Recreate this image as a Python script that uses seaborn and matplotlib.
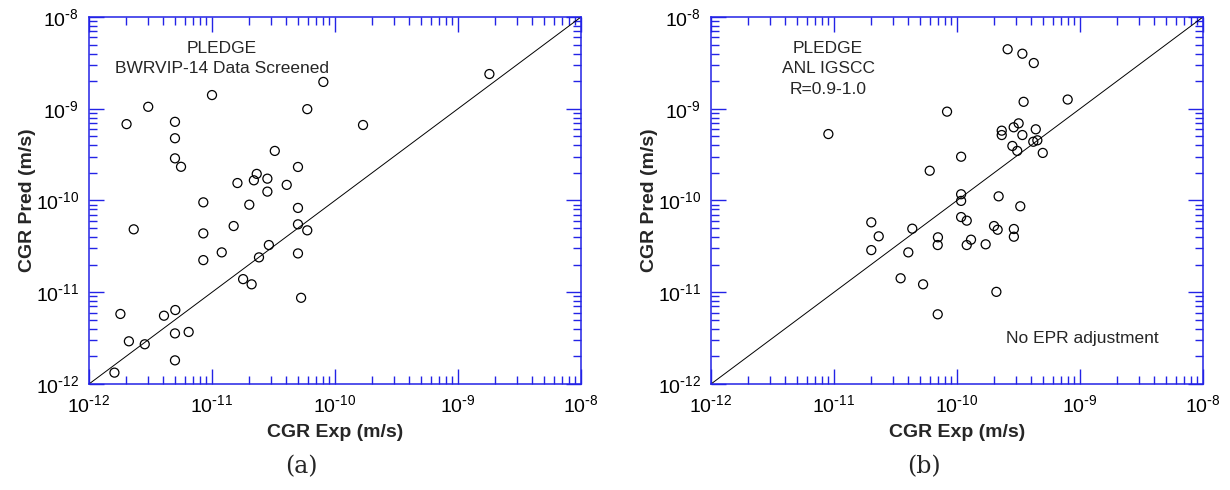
import numpy as np
import pandas as pd
import matplotlib
matplotlib.use("Agg")
import matplotlib.pyplot as plt
import matplotlib.ticker as mticker
import seaborn as sns

# ---------------- data ----------------
a_exp = [1.0e-11, 3.03e-12, 5.95e-11, 2.02e-12, 5.0e-12, 1.69e-10, 5.0e-12, 3.24e-11,
         5.0e-12, 5.6e-12, 5.0e-11, 2.31e-11, 2.19e-11, 2.82e-11, 1.61e-11, 4.05e-11,
         2.82e-11, 8.5e-12, 2.01e-11, 5.0e-11, 2.31e-12, 1.5e-11, 8.5e-12, 5.0e-11,
         5.95e-11, 1.2e-11, 8.5e-12, 2.9e-11, 2.41e-11, 5.0e-11, 1.79e-11, 2.1e-11,
         5.3e-11, 1.8e-12, 4.07e-12, 5.03e-12, 5.0e-12, 6.46e-12, 2.11e-12, 2.84e-12,
         5.0e-12, 1.61e-12, 1.8e-9, 8.04e-11]
a_pred = [1.41e-9, 1.05e-9, 0.99e-9, 6.8e-10, 7.2e-10, 6.65e-10, 4.77e-10, 3.47e-10,
          2.88e-10, 2.33e-10, 2.32e-10, 1.95e-10, 1.66e-10, 1.73e-10, 1.55e-10, 1.48e-10,
          1.25e-10, 9.55e-11, 9.0e-11, 8.3e-11, 4.85e-11, 5.27e-11, 4.38e-11, 5.5e-11,
          4.73e-11, 2.72e-11, 2.24e-11, 3.27e-11, 2.4e-11, 2.65e-11, 1.39e-11, 1.22e-11,
          8.7e-12, 5.8e-12, 5.55e-12, 6.4e-12, 3.56e-12, 3.69e-12, 2.92e-12, 2.71e-12,
          1.81e-12, 1.33e-12, 2.39e-9, 1.96e-9]

b_exp = [2.58e-10, 3.4e-10, 4.21e-10, 3.48e-10, 8.3e-11, 9.0e-12, 2.31e-10, 2.31e-10,
         7.94e-10, 2.89e-10, 3.17e-10, 4.37e-10, 3.4e-10, 2.82e-10, 3.09e-10, 4.17e-10,
         4.5e-10, 4.98e-10, 1.08e-10, 6.0e-11, 1.08e-10, 1.08e-10, 2.18e-10, 3.27e-10,
         1.08e-10, 1.2e-10, 4.33e-11, 2.0e-10, 2.14e-10, 2.9e-10, 2.9e-10, 7.0e-11,
         6.97e-11, 1.3e-10, 1.2e-10, 1.71e-10, 2.01e-11, 2.31e-11, 2.01e-11, 4.02e-11,
         3.48e-11, 5.3e-11, 2.09e-10, 6.97e-11]
b_pred = [4.45e-9, 3.98e-9, 3.15e-9, 1.19e-9, 9.3e-10, 5.3e-10, 5.77e-10, 5.17e-10,
          1.26e-9, 6.28e-10, 6.93e-10, 5.97e-10, 5.17e-10, 3.93e-10, 3.47e-10, 4.37e-10,
          4.53e-10, 3.3e-10, 3.0e-10, 2.11e-10, 1.17e-10, 9.9e-11, 1.11e-10, 8.65e-11,
          6.6e-11, 6.03e-11, 4.93e-11, 5.27e-11, 4.8e-11, 4.89e-11, 4.03e-11, 3.97e-11,
          3.27e-11, 3.74e-11, 3.27e-11, 3.33e-11, 5.78e-11, 4.07e-11, 2.88e-11, 2.72e-11,
          1.42e-11, 1.22e-11, 1.01e-11, 5.75e-12]

diag = [1e-12, 1e-8]
axis_range = [1e-12, 1e-8]
tick_vals = [1e-12, 1e-11, 1e-10, 1e-9, 1e-8]
tick_labels = [r"$\mathregular{10^{\text{-}12}}$", r"$\mathregular{10^{\text{-}11}}$",
               r"$\mathregular{10^{\text{-}10}}$", r"$\mathregular{10^{\text{-}9}}$",
               r"$\mathregular{10^{\text{-}8}}$"]

xlabel = "CGR Exp (m/s)"
ylabel = "CGR Pred (m/s)"
a_text = "PLEDGE\nBWRVIP-14 Data Screened"
b_text = "PLEDGE\nANL IGSCC\nR=0.9-1.0"
b_note = "No EPR adjustment"
captions = ["(a)", "(b)"]

# ---------------- style ----------------
sns.set_theme(style="white")
plt.rcParams["font.family"] = ["Liberation Sans", "DejaVu Sans"]
plt.rcParams["mathtext.default"] = "regular"

BLUE = "#2323e6"

fig = plt.figure(figsize=(12.3, 4.9), dpi=100)
ax_a = fig.add_axes([89 / 1230, 106 / 490, 492 / 1230, 367 / 490])
ax_b = fig.add_axes([711 / 1230, 106 / 490, 492 / 1230, 367 / 490])


def style_axes(ax, xs, ys):
    sns.lineplot(x=diag, y=diag, ax=ax, color="black", linewidth=0.7)
    sns.scatterplot(x=xs, y=ys, ax=ax, marker="o", s=42, facecolor="none",
                    edgecolor="black", linewidth=0.9, zorder=3)
    ax.set_xscale("log")
    ax.set_yscale("log")
    ax.set_xlim(axis_range)
    ax.set_ylim(axis_range)
    ax.set_xticks(tick_vals)
    ax.set_yticks(tick_vals)
    ax.set_xticklabels(tick_labels)
    ax.set_yticklabels(tick_labels)
    ax.xaxis.set_minor_locator(mticker.LogLocator(base=10, subs=np.arange(2, 10), numticks=20))
    ax.yaxis.set_minor_locator(mticker.LogLocator(base=10, subs=np.arange(2, 10), numticks=20))
    ax.xaxis.set_minor_formatter(mticker.NullFormatter())
    ax.yaxis.set_minor_formatter(mticker.NullFormatter())
    ax.tick_params(which="both", direction="in", top=True, right=True,
                   bottom=True, left=True, color=BLUE, width=1.0)
    ax.tick_params(which="major", length=11, pad=7, labelsize=14, labelcolor="black")
    ax.tick_params(which="minor", length=5.8)
    for sp in ax.spines.values():
        sp.set_color(BLUE)
        sp.set_linewidth(1.1)
        sp.set_visible(True)
    ax.set_xlabel(xlabel, fontsize=14, fontweight="bold")
    ax.set_ylabel(ylabel, fontsize=14, fontweight="bold")
    ax.xaxis.set_label_coords(0.5, -0.108)
    ax.yaxis.set_label_coords(-0.108, 0.5)
    ax.grid(False)
    ax.set_facecolor("white")


style_axes(ax_a, a_exp, a_pred)
style_axes(ax_b, b_exp, b_pred)

ax_a.text(0.27, 0.935, a_text, transform=ax_a.transAxes, ha="center", va="top",
          fontsize=12.5, linespacing=1.45)
ax_b.text(0.238, 0.935, b_text, transform=ax_b.transAxes, ha="center", va="top",
          fontsize=12.5, linespacing=1.45)
ax_b.text(0.6, 0.123, b_note, transform=ax_b.transAxes, ha="left", va="center",
          fontsize=12.5)

fig.text(301.5 / 1230, 1 - 467 / 490, captions[0], ha="center", va="center",
         fontsize=17, family="DejaVu Serif")
fig.text(924 / 1230, 1 - 467 / 490, captions[1], ha="center", va="center",
         fontsize=17, family="DejaVu Serif")

fig.savefig("out.png", dpi=100, facecolor="white")
